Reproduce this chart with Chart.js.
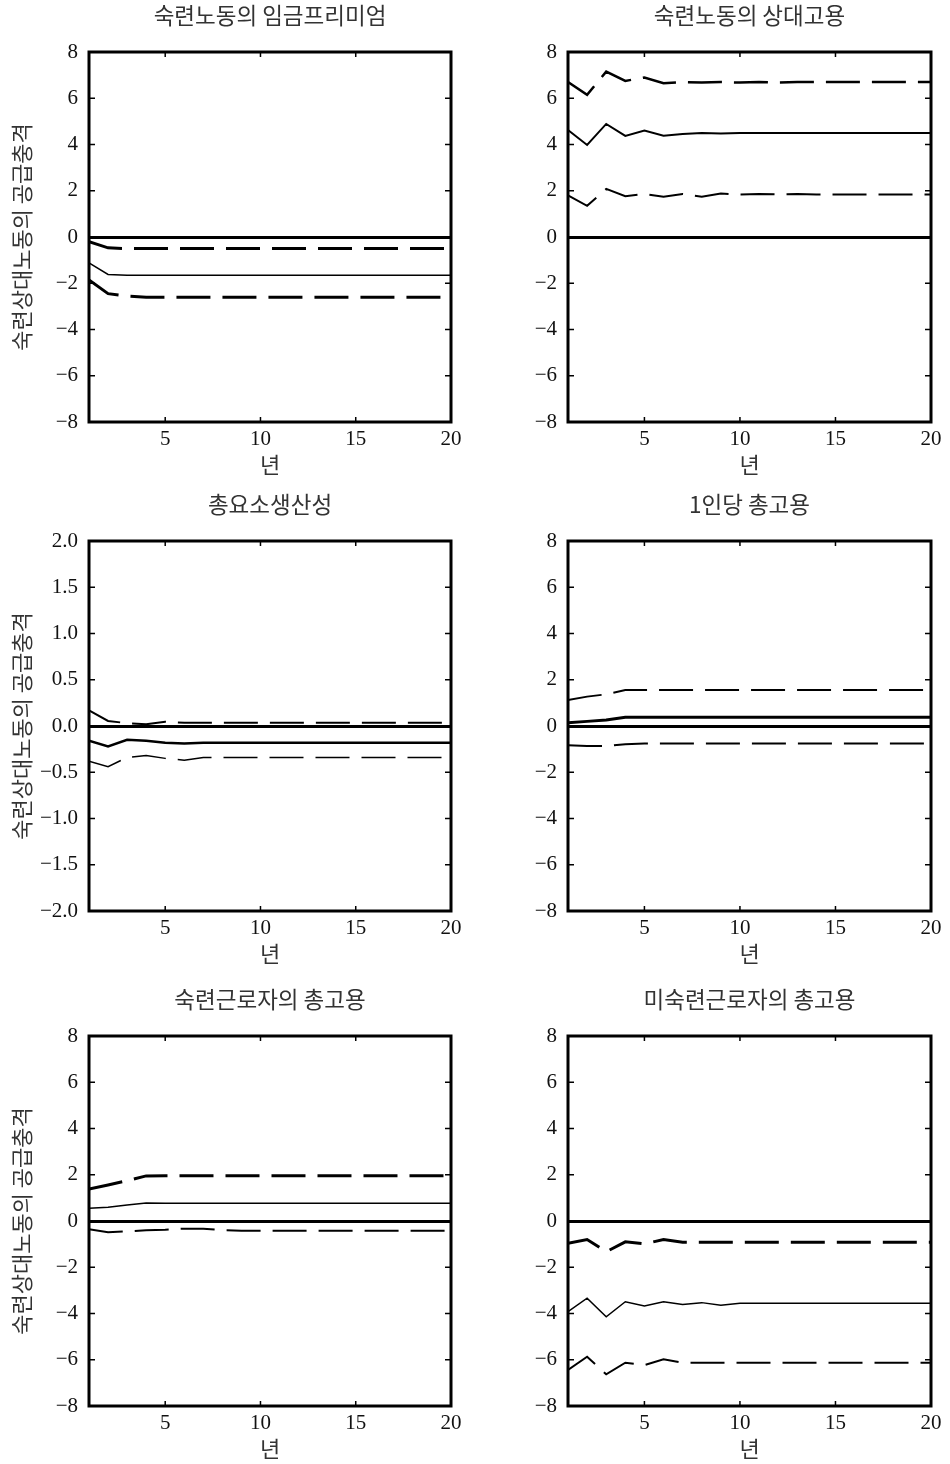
<!DOCTYPE html>
<html>
<head>
<meta charset="utf-8">
<script src="https://cdn.jsdelivr.net/npm/chart.js@4.4.1/dist/chart.umd.min.js"></script>
<style>
  body { margin: 0; background: #fff; width: 950px; height: 1464px; overflow: hidden; position: relative; }
  .panel { position: absolute; width: 475px; height: 482px; }
</style>
</head>
<body>
<div class="panel" style="left:0;top:0"><canvas id="p1" width="475" height="482"></canvas></div>
<div class="panel" style="left:475px;top:0"><canvas id="p2" width="475" height="482"></canvas></div>
<div class="panel" style="left:0;top:489px"><canvas id="p3" width="475" height="482"></canvas></div>
<div class="panel" style="left:475px;top:489px"><canvas id="p4" width="475" height="482"></canvas></div>
<div class="panel" style="left:0;top:984px"><canvas id="p5" width="475" height="482"></canvas></div>
<div class="panel" style="left:475px;top:984px"><canvas id="p6" width="475" height="482"></canvas></div>
<script>
// 가로축: 년
const years = [1, 2, 3, 4, 5, 6, 7, 8, 9, 10, 11, 12, 13, 14, 15, 16, 17, 18, 19, 20];
const xTicks = [5, 10, 15, 20];
const yTicksWide = [-8, -6, -4, -2, 0, 2, 4, 6, 8];
const yTicksNarrow = [-2, -1.5, -1, -0.5, 0, 0.5, 1, 1.5, 2];

const titles = ['숙련노동의 임금프리미엄', '숙련노동의 상대고용', '총요소생산성',
  '1인당 총고용', '숙련근로자의 총고용', '미숙련근로자의 총고용'];
const yTitle = '숙련상대노동의 공급충격';
const xTitle = '년';

// 숙련노동의 임금프리미엄
const wageUpper = [-0.2, -0.47, -0.5, -0.5, -0.5, -0.5, -0.5, -0.5, -0.5, -0.5, -0.5, -0.5, -0.5, -0.5, -0.5, -0.5, -0.5, -0.5, -0.5, -0.5];
const wageMid = [-1.12, -1.62, -1.65, -1.65, -1.65, -1.65, -1.65, -1.65, -1.65, -1.65, -1.65, -1.65, -1.65, -1.65, -1.65, -1.65, -1.65, -1.65, -1.65, -1.65];
const wageLower = [-1.86, -2.45, -2.55, -2.6, -2.6, -2.6, -2.6, -2.6, -2.6, -2.6, -2.6, -2.6, -2.6, -2.6, -2.6, -2.6, -2.6, -2.6, -2.6, -2.6];

// 숙련노동의 상대고용
const relUpper = [6.7, 6.15, 7.15, 6.75, 6.9, 6.65, 6.7, 6.68, 6.7, 6.68, 6.7, 6.68, 6.7, 6.7, 6.7, 6.7, 6.7, 6.7, 6.7, 6.7];
const relMid = [4.63, 3.98, 4.89, 4.37, 4.6, 4.38, 4.45, 4.5, 4.48, 4.5, 4.5, 4.5, 4.5, 4.5, 4.5, 4.5, 4.5, 4.5, 4.5, 4.5];
const relLower = [1.8, 1.35, 2.08, 1.76, 1.86, 1.74, 1.86, 1.74, 1.88, 1.84, 1.86, 1.84, 1.86, 1.84, 1.84, 1.84, 1.84, 1.84, 1.84, 1.84];

// 총요소생산성
const tfpUpper = [0.17, 0.055, 0.03, 0.02, 0.047, 0.035, 0.035, 0.035, 0.035, 0.035, 0.035, 0.035, 0.035, 0.035, 0.035, 0.035, 0.035, 0.035, 0.035, 0.035];
const tfpMid = [-0.16, -0.22, -0.15, -0.16, -0.18, -0.19, -0.18, -0.18, -0.18, -0.18, -0.18, -0.18, -0.18, -0.18, -0.18, -0.18, -0.18, -0.18, -0.18, -0.18];
const tfpLower = [-0.38, -0.44, -0.34, -0.32, -0.35, -0.37, -0.34, -0.34, -0.34, -0.34, -0.34, -0.34, -0.34, -0.34, -0.34, -0.34, -0.34, -0.34, -0.34, -0.34];

// 1인당 총고용
const perUpper = [1.12, 1.27, 1.37, 1.56, 1.56, 1.56, 1.56, 1.56, 1.56, 1.56, 1.56, 1.56, 1.56, 1.56, 1.56, 1.56, 1.56, 1.56, 1.56, 1.56];
const perMid = [0.14, 0.2, 0.26, 0.38, 0.38, 0.38, 0.38, 0.38, 0.38, 0.38, 0.38, 0.38, 0.38, 0.38, 0.38, 0.38, 0.38, 0.38, 0.38, 0.38];
const perLower = [-0.83, -0.86, -0.86, -0.79, -0.76, -0.76, -0.76, -0.76, -0.76, -0.76, -0.76, -0.76, -0.76, -0.76, -0.76, -0.76, -0.76, -0.76, -0.76, -0.76];

// 숙련근로자의 총고용
const skUpper = [1.38, 1.56, 1.74, 1.95, 1.96, 1.96, 1.96, 1.96, 1.96, 1.96, 1.96, 1.96, 1.96, 1.96, 1.96, 1.96, 1.96, 1.96, 1.96, 1.96];
const skMid = [0.55, 0.59, 0.69, 0.78, 0.77, 0.77, 0.77, 0.77, 0.77, 0.77, 0.77, 0.77, 0.77, 0.77, 0.77, 0.77, 0.77, 0.77, 0.77, 0.77];
const skLower = [-0.36, -0.49, -0.45, -0.4, -0.38, -0.33, -0.33, -0.4, -0.42, -0.42, -0.42, -0.42, -0.42, -0.42, -0.42, -0.42, -0.42, -0.42, -0.42, -0.42];

// 미숙련근로자의 총고용
const unUpper = [-0.96, -0.8, -1.33, -0.9, -0.99, -0.8, -0.92, -0.92, -0.92, -0.92, -0.92, -0.92, -0.92, -0.92, -0.92, -0.92, -0.92, -0.92, -0.92, -0.92];
const unMid = [-3.92, -3.34, -4.14, -3.49, -3.68, -3.49, -3.61, -3.53, -3.64, -3.56, -3.56, -3.56, -3.56, -3.56, -3.56, -3.56, -3.56, -3.56, -3.56, -3.56];
const unLower = [-6.44, -5.87, -6.63, -6.13, -6.23, -5.98, -6.13, -6.13, -6.13, -6.13, -6.13, -6.13, -6.13, -6.13, -6.13, -6.13, -6.13, -6.13, -6.13, -6.13];

const serif = '"Liberation Serif", "DejaVu Serif", serif';
const hangul = '"Noto Sans CJK KR", "Noto Sans", sans-serif';
const DASH = [34, 12];

// 테두리와 안쪽 눈금
const frameTicks = {
  id: 'frameTicks',
  afterDatasetsDraw(chart) {
    const { ctx, chartArea: a, scales: { x, y } } = chart;
    ctx.save();
    ctx.strokeStyle = '#000';
    ctx.lineWidth = 1.5;
    ctx.beginPath();
    x.ticks.forEach(t => {
      const px = x.getPixelForValue(t.value);
      if (px < a.left + 3 || px > a.right - 3) return;
      ctx.moveTo(px, a.top); ctx.lineTo(px, a.top + 5);
      ctx.moveTo(px, a.bottom); ctx.lineTo(px, a.bottom - 5);
    });
    y.ticks.forEach(t => {
      const py = y.getPixelForValue(t.value);
      if (py < a.top + 3 || py > a.bottom - 3) return;
      ctx.moveTo(a.left, py); ctx.lineTo(a.left + 6, py);
      ctx.moveTo(a.right, py); ctx.lineTo(a.right - 6, py);
    });
    ctx.stroke();
    ctx.lineWidth = 3;
    ctx.strokeRect(a.left, a.top, a.right - a.left, a.bottom - a.top);
    ctx.restore();
  }
};

function line(values, width, dashed) {
  return {
    data: values.map((v, i) => ({ x: years[i], y: v })),
    borderColor: '#000',
    borderWidth: width,
    borderDash: dashed ? DASH : [],
    pointRadius: 0,
    tension: 0,
    fill: false
  };
}

function panel(id, title, ticks, datasets, left) {
  const narrow = ticks === yTicksNarrow;
  return new Chart(document.getElementById(id), {
    type: 'line',
    data: { datasets },
    plugins: [frameTicks],
    options: {
      responsive: false,
      animation: false,
      layout: { padding: { left: 0, right: left ? 24 : 19, top: 0, bottom: 0 } },
      plugins: {
        legend: { display: false },
        tooltip: { enabled: false },
        title: {
          display: true,
          text: title,
          fullSize: false,
          color: '#333',
          font: { family: hangul, size: 22.5, weight: 'normal' },
          padding: { top: 1.5, bottom: 23.5 }
        }
      },
      scales: {
        x: {
          type: 'linear',
          min: 1,
          max: 20,
          afterBuildTicks: s => { s.ticks = xTicks.map(v => ({ value: v })); },
          afterFit: s => { s.height = 60; },
          grid: { display: false },
          border: { display: false },
          ticks: { color: '#111', font: { family: serif, size: 21 }, padding: -3, maxRotation: 0 },
          title: {
            display: true, text: xTitle, color: '#333',
            font: { family: hangul, size: 22 }, padding: { top: 0, bottom: 3.8 }
          }
        },
        y: {
          min: ticks[0],
          max: ticks[ticks.length - 1],
          afterBuildTicks: s => { s.ticks = ticks.map(v => ({ value: v })); },
          afterFit: s => { s.width = left ? 89 : 93; },
          grid: {
            drawTicks: false,
            color: c => (c.tick && c.tick.value === 0 ? '#000' : 'rgba(0,0,0,0)'),
            lineWidth: 3
          },
          border: { display: false },
          ticks: {
            color: '#111',
            font: { family: serif, size: 21 },
            padding: 11,
            callback: v => (narrow ? v.toFixed(1) : String(v)).replace('-', '\u2212')
          },
          title: {
            display: left, text: yTitle, color: '#333',
            font: { family: hangul, size: 22 }, padding: { top: 8.8, bottom: 0 }
          }
        }
      }
    }
  });
}

panel('p1', titles[0], yTicksWide, [line(wageUpper, 3, true), line(wageMid, 1.5, false), line(wageLower, 3, true)], true);
panel('p2', titles[1], yTicksWide, [line(relUpper, 2.5, true), line(relMid, 2, false), line(relLower, 2, true)], false);
panel('p3', titles[2], yTicksNarrow, [line(tfpUpper, 2, true), line(tfpMid, 2.5, false), line(tfpLower, 1.5, true)], true);
panel('p4', titles[3], yTicksWide, [line(perUpper, 2, true), line(perMid, 3, false), line(perLower, 2, true)], false);
panel('p5', titles[4], yTicksWide, [line(skUpper, 3, true), line(skMid, 1.5, false), line(skLower, 2, true)], true);
panel('p6', titles[5], yTicksWide, [line(unUpper, 3, true), line(unMid, 1.5, false), line(unLower, 2, true)], false);
</script>
</body>
</html>
